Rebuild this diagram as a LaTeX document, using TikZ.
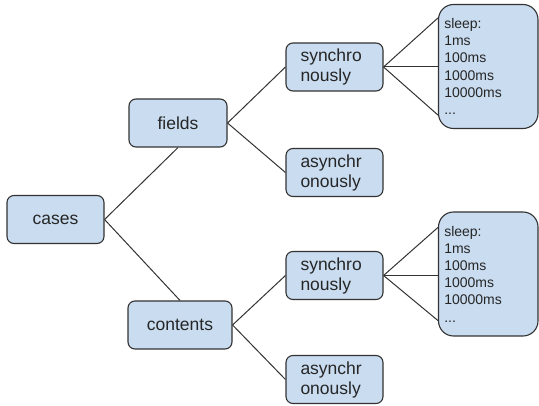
\documentclass[tikz,border=0pt]{standalone}
\usepackage{fontspec}
\setmainfont{Liberation Sans}
\definecolor{boxfill}{HTML}{C9DCF0}
\definecolor{boxline}{HTML}{333333}

\begin{document}
\begin{tikzpicture}[x=1pt, y=-1pt, line width=1.1pt]
		\tikzstyle{every node}=[text=black!85, font=\fontsize{17.5}{20}\selectfont]
		\tikzstyle{box}=[draw=boxline, fill=boxfill, rounded corners=7pt, minimum height=48pt, inner sep=0pt]
		\tikzstyle{twoline}=[box, align=left, text width=68pt, inner xsep=14.5pt]
		\tikzstyle{sleepbox}=[box, rounded corners=15pt, align=left, text width=88pt, inner xsep=5.75pt, minimum height=124pt, font=\fontsize{14}{17.2}\selectfont]
		\tikzstyle{conn}=[draw=boxline, line width=1pt]
			\useasboundingbox (0,0) rectangle (539,406);

			\node[box, minimum width=97pt] (cases) at (55.5, 219.5) {cases};
			\node[box, minimum width=98pt] (fields) at (178, 123) {fields};
			\node[box, minimum width=104pt] (contents) at (180, 325) {contents};

			\node[twoline] (sync1) at (334.5, 67) {synchro\\nously};
			\node[twoline] (async1) at (334.5, 172.5) {asynchr\\onously};
			\node[twoline] (sync2) at (334.5, 275.5) {synchro\\nously};
			\node[twoline] (async2) at (334.5, 379.5) {asynchr\\onously};

			\node[sleepbox] (sleep1) at (488.25, 66.5) {sleep:\\1ms\\100ms\\1000ms\\10000ms\\...};
			\node[sleepbox] (sleep2) at (488.25, 274) {sleep:\\1ms\\100ms\\1000ms\\10000ms\\...};

			\draw[conn] (cases.east) to (fields.south);
			\draw[conn] (cases.east) to (contents.north);
			\draw[conn] (fields.east) to (sync1.west);
			\draw[conn] (fields.east) to (async1.west);
			\draw[conn] (contents.east) to (sync2.west);
			\draw[conn] (contents.east) to (async2.west);

			\draw[conn] (sync1.east) to ([yshift=-14pt]sleep1.north west);
			\draw[conn] (sync1.east) to (sleep1.west |- sync1.east);
			\draw[conn] (sync1.east) to ([yshift=14pt]sleep1.south west);
			\draw[conn] (sync2.east) to ([yshift=-16pt]sleep2.north west);
			\draw[conn] (sync2.east) to (sleep2.west |- sync2.east);
			\draw[conn] (sync2.east) to ([yshift=16pt]sleep2.south west);
		\end{tikzpicture}
\end{document}
